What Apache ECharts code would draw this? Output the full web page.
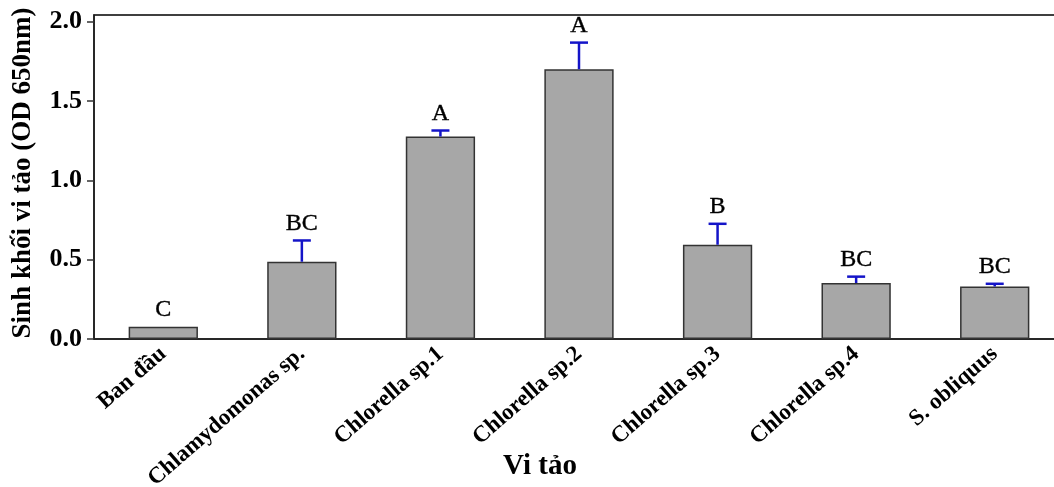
<!DOCTYPE html>
<html>
<head>
<meta charset="utf-8">
<script src="https://cdn.jsdelivr.net/npm/echarts@6/dist/echarts.min.js"></script>
<style>html,body{margin:0;padding:0;background:#fff;overflow:hidden}#c{width:1054px;height:487px}</style>
</head>
<body>
<div id="c"></div>
<script>
const categories = ['Ban đầu', 'Chlamydomonas sp.', 'Chlorella sp.1', 'Chlorella sp.2', 'Chlorella sp.3', 'Chlorella sp.4', 'S. obliquus'];
const means = [0.077, 0.487, 1.276, 1.700, 0.594, 0.353, 0.331];
const errors = [0, 0.134, 0.038, 0.168, 0.132, 0.040, 0.017];
const letters = ['C', 'BC', 'A', 'A', 'B', 'BC', 'BC'];
const yTicks = [0, 0.5, 1.0, 1.5, 2.0];
const yTitle = 'Sinh khối vi tảo (OD 650nm)';
const xTitle = 'Vi tảo';

const serif = '"Liberation Serif", "Times New Roman", serif';
const chart = echarts.init(document.getElementById('c'), null, {renderer: 'canvas'});

const errData = means.map((m, i) => [i, m, m + errors[i]]);

chart.setOption({
  animation: false,
  backgroundColor: '#fff',
  grid: {left: 94, right: -10, top: 15, bottom: 148, outerBoundsMode: 'none', containLabel: false,
         show: true, borderColor: '#000', borderWidth: 1.5, backgroundColor: 'transparent'},
  xAxis: {
    type: 'category',
    data: categories,
    axisLine: {lineStyle: {color: '#222', width: 1.5}},
    axisTick: {alignWithLabel: true, length: 8, lineStyle: {color: '#333', width: 1.5}},
    axisLabel: {rotate: 41, margin: 12, interval: 0, fontFamily: serif, fontWeight: 'bold', fontSize: 23, color: '#000'}
  },
  yAxis: {
    type: 'value',
    min: 0, max: 2.042, interval: 0.5,
    splitLine: {show: false},
    axisLine: {show: true, lineStyle: {color: '#222', width: 1.5}},
    axisTick: {show: true, length: 7, customValues: yTicks, lineStyle: {color: '#333', width: 1.5}},
    axisLabel: {customValues: yTicks, margin: 12, fontFamily: serif, fontWeight: 'bold', fontSize: 26, color: '#000',
      formatter: v => v.toFixed(1)}
  },
  graphic: [
    {type: 'text', x: 23, y: 173, rotation: Math.PI / 2,
     style: {text: yTitle, align: 'center', verticalAlign: 'middle', font: 'bold 27px ' + serif, fill: '#000'}},
    {type: 'text', x: 540, y: 467,
     style: {text: xTitle, align: 'center', verticalAlign: 'middle', font: 'bold 29px ' + serif, fill: '#000'}}
  ],
  series: [
    {
      type: 'bar',
      data: means,
      barWidth: '50%',
      itemStyle: {color: '#a7a7a7', borderColor: '#333', borderWidth: 1.5},
      z: 2
    },
    {
      type: 'custom',
      data: errData,
      z: 3,
      renderItem: function (params, api) {
        const i = api.value(0);
        const base = api.coord([i, api.value(1)]);
        const top = api.coord([i, api.value(2)]);
        const half = 9;
        const children = [];
        if (api.value(2) > api.value(1)) {
          children.push({type: 'line', shape: {x1: top[0], y1: base[1], x2: top[0], y2: top[1]}, style: {stroke: '#1414c8', lineWidth: 2.5}});
          children.push({type: 'line', shape: {x1: top[0] - half, y1: top[1], x2: top[0] + half, y2: top[1]}, style: {stroke: '#1414c8', lineWidth: 2.5}});
        }
        children.push({type: 'text', x: top[0], y: top[1] - 5,
          style: {text: letters[params.dataIndex], align: 'center', verticalAlign: 'bottom', font: '24px ' + serif, fill: '#000', stroke: '#000', lineWidth: 0.4}});
        return {type: 'group', children: children};
      }
    }
  ]
});
</script>
</body>
</html>
